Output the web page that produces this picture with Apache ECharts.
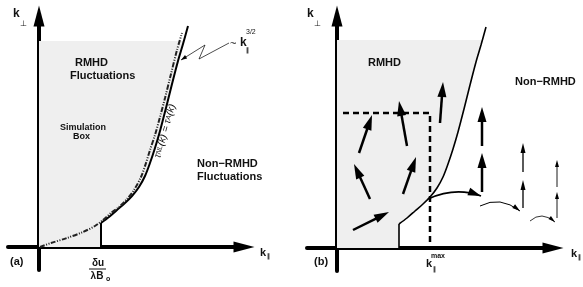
<!DOCTYPE html>
<html>
<head>
<meta charset="utf-8">
<script src="https://cdn.jsdelivr.net/npm/echarts@6/dist/echarts.min.js"></script>
<style>
    html, body { margin: 0; background: #fff; }
    #chart { width: 583px; height: 287px; }
</style>
</head>
<body>
<div id="chart"></div>
<script>
// Everything below is in axis units: origin at the k_perp / k_par crossing, 1 unit ~ 1px.

// RMHD boundary (same in both panels): vertical step at the cut-off, then ~ k_par^(3/2)
const boundaryStep = [[62, 0], [62, 24]];
const boundary = [[62, 24], [70, 30], [78, 37], [86, 44], [93, 51], [100, 60], [106, 71], [111, 84],
    [116, 99], [121, 116], [127, 139], [133, 163], [139, 186], [144, 203], [149, 221]];

// tau_NL(k) = tau_A(k) line in panel (a)
const balanceLine = [[1, 0], [12, 4], [28, 9], [44, 15], [56, 21], [64, 27], [72, 34], [80, 40], [88, 48],
    [95, 57], [102, 70], [107, 84], [111, 97], [116, 112], [121, 130], [126, 149], [132, 173], [138, 197], [143, 214]];

// zig-zag pointer from the "~ k^3/2" note to the boundary
const pointer = [[190, 204], [160, 188], [166, 202], [142, 187]];

const shadeTopA = 206;
const shadeTopB = 208;

// panel (b): simulation box corner at k_par^max
const simBox = [[6, 135], [93, 135], [93, 0]];

// straight arrows [x0, y0, x1, y1]
const bigArrows = [
    [22, 95, 35, 133],
    [70, 102, 62, 147],
    [103, 125, 106, 166],
    [33, 49, 17, 84],
    [66, 54, 79, 91],
    [16, 18, 52, 36],
    [145, 102, 145, 141],
    [145, 56, 145, 95],
];
const midArrows = [
    [186, 76, 186, 105],
    [186, 40, 186, 68],
];
const smallArrows = [
    [220, 61, 220, 88],
    [220, 30, 220, 56],
];

// bent arrows [x0, y0, xMid, yMid, x1, y1]
const bigBends = [[91, 49, 118, 56, 144, 52]];
const midBends = [[143, 42, 163, 46, 183, 37]];
const smallBends = [[193, 27, 205, 32, 218, 26]];

const INK = '#000';
const SHADE = '#efefef';
const FAMILY = '"Liberation Sans", Arial, sans-serif';

function shadePolygon(top) {
    const pts = [[0, 0]].concat(boundaryStep);
    for (let i = 1; i < boundary.length; i++) {
        const a = boundary[i - 1];
        const b = boundary[i];
        if (b[1] < top) {
            pts.push(b);
        } else {
            const t = (top - a[1]) / (b[1] - a[1]);
            pts.push([a[0] + t * (b[0] - a[0]), top]);
            break;
        }
    }
    pts.push([0, top]);
    return pts;
}

function arrowHead(tip, from, len, wid) {
    const dx = tip[0] - from[0];
    const dy = tip[1] - from[1];
    const d = Math.hypot(dx, dy) || 1;
    const ux = dx / d;
    const uy = dy / d;
    const bx = tip[0] - ux * len;
    const by = tip[1] - uy * len;
    return {
        type: 'polygon',
        shape: { points: [tip, [bx - uy * wid / 2, by + ux * wid / 2], [bx + uy * wid / 2, by - ux * wid / 2]] },
        style: { fill: INK },
    };
}

function axisPair(grid) {
    return {
        gridIndex: grid,
        type: 'value',
        axisLine: {
            onZero: true,
            symbol: ['none', 'triangle'],
            symbolSize: [11, 21],
            lineStyle: { color: INK, width: 4 },
        },
        axisTick: { show: false },
        axisLabel: { show: false },
        splitLine: { show: false },
    };
}

function shadeSeries(grid, top) {
    const pts = shadePolygon(top);
    return {
        type: 'custom',
        xAxisIndex: grid,
        yAxisIndex: grid,
        silent: true,
        z: 1,
        data: [[0, 0]],
        renderItem: (params, api) => ({
            type: 'polygon',
            shape: { points: pts.map((p) => api.coord(p)) },
            style: { fill: SHADE },
        }),
    };
}

function lineSeries(grid, data, width, extra) {
    return Object.assign({
        type: 'line',
        xAxisIndex: grid,
        yAxisIndex: grid,
        data: data,
        symbol: 'none',
        silent: true,
        z: 3,
        lineStyle: { color: INK, width: width },
    }, extra || {});
}

function arrowSeries(grid, rows, width, len, wid) {
    return {
        type: 'custom',
        xAxisIndex: grid,
        yAxisIndex: grid,
        silent: true,
        z: 4,
        data: rows,
        encode: { x: [0, 2], y: [1, 3] },
        renderItem: (params, api) => {
            const p0 = api.coord([api.value(0), api.value(1)]);
            const p1 = api.coord([api.value(2), api.value(3)]);
            const d = Math.hypot(p1[0] - p0[0], p1[1] - p0[1]) || 1;
            const k = (len - 1) / d;
            return {
                type: 'group',
                children: [
                    {
                        type: 'line',
                        shape: { x1: p0[0], y1: p0[1], x2: p1[0] - (p1[0] - p0[0]) * k, y2: p1[1] - (p1[1] - p0[1]) * k },
                        style: { stroke: INK, lineWidth: width },
                    },
                    arrowHead(p1, p0, len, wid),
                ],
            };
        },
    };
}

function bendSeries(grid, rows, width, len, wid) {
    return {
        type: 'custom',
        xAxisIndex: grid,
        yAxisIndex: grid,
        silent: true,
        z: 4,
        data: rows,
        encode: { x: [0, 2, 4], y: [1, 3, 5] },
        renderItem: (params, api) => {
            const p0 = api.coord([api.value(0), api.value(1)]);
            const pm = api.coord([api.value(2), api.value(3)]);
            const p1 = api.coord([api.value(4), api.value(5)]);
            // quadratic control point so the curve passes through the middle point
            const c = [2 * pm[0] - (p0[0] + p1[0]) / 2, 2 * pm[1] - (p0[1] + p1[1]) / 2];
            return {
                type: 'group',
                children: [
                    {
                        type: 'bezierCurve',
                        shape: { x1: p0[0], y1: p0[1], x2: p1[0], y2: p1[1], cpx1: c[0], cpy1: c[1] },
                        style: { stroke: INK, lineWidth: width, fill: null },
                    },
                    arrowHead(p1, c, len, wid),
                ],
            };
        },
    };
}

function pointerSeries(grid) {
    return {
        type: 'custom',
        xAxisIndex: grid,
        yAxisIndex: grid,
        silent: true,
        z: 4,
        data: [[0, 0]],
        renderItem: (params, api) => {
            const pts = pointer.map((p) => api.coord(p));
            const n = pts.length;
            return {
                type: 'group',
                children: [
                    { type: 'polyline', shape: { points: pts }, style: { stroke: INK, lineWidth: 0.7, fill: null } },
                    arrowHead(pts[n - 1], pts[n - 2], 6, 4),
                ],
            };
        },
    };
}

function txt(x, y, text, size, opts) {
    const o = opts || {};
    return {
        type: 'text',
        x: x,
        y: y,
        rotation: o.rotation || 0,
        z: 10,
        style: {
            text: text,
            fontFamily: FAMILY,
            fontSize: size,
            fontWeight: o.weight || 'bold',
            fontStyle: o.italic ? 'italic' : 'normal',
            fill: '#111',
            align: o.align || 'left',
            verticalAlign: 'middle',
            rich: o.rich,
        },
    };
}

const chart = echarts.init(document.getElementById('chart'), null, { renderer: 'canvas' });

chart.setOption({
    animation: false,
    backgroundColor: '#fff',
    grid: [
        { left: 8, top: 16, width: 236, height: 254, outerBoundsMode: 'none' },
        { left: 307, top: 16, width: 246, height: 255, outerBoundsMode: 'none' },
    ],
    xAxis: [
        Object.assign(axisPair(0), { min: -31, max: 205 }),
        Object.assign(axisPair(1), { min: -30, max: 216 }),
    ],
    yAxis: [
        Object.assign(axisPair(0), { min: -23, max: 231 }),
        Object.assign(axisPair(1), { min: -23, max: 232 }),
    ],
    series: [
        // panel (a)
        shadeSeries(0, shadeTopA),
        lineSeries(0, boundaryStep, 2),
        lineSeries(0, boundary, 2, { smooth: 0.3 }),
        lineSeries(0, balanceLine, 2, {
            smooth: 0.3,
            lineStyle: { color: '#222', width: 2, type: [5, 1.5, 1, 1.5, 1, 1.5] },
        }),
        pointerSeries(0),

        // panel (b)
        shadeSeries(1, shadeTopB),
        lineSeries(1, boundaryStep, 1.6),
        lineSeries(1, boundary, 1.6, { smooth: 0.3 }),
        lineSeries(1, simBox, 2.5, { lineStyle: { color: INK, width: 2.5, type: [6, 4] } }),
        arrowSeries(1, bigArrows, 2.5, 15, 9),
        arrowSeries(1, midArrows, 1.3, 10, 5),
        arrowSeries(1, smallArrows, 0.9, 7, 4),
        bendSeries(1, bigBends, 1.8, 13, 8),
        bendSeries(1, midBends, 1, 8, 4.5),
        bendSeries(1, smallBends, 0.8, 7, 4),
    ],
    graphic: [
        // panel (a)
        txt(13, 14, 'k', 12),
        txt(20, 24, '⊥', 8, { weight: 'normal' }),
        txt(75, 63, 'RMHD', 11),
        txt(70, 76, 'Fluctuations', 11),
        txt(60, 128, 'Simulation', 9),
        txt(73, 137, 'Box', 9),
        txt(197, 164, 'Non\u2212RMHD', 11),
        txt(197, 177, 'Fluctuations', 11),
        txt(230, 44, '~', 11, { weight: 'normal' }),
        txt(240, 43, 'k', 12),
        txt(246, 50, '\u2225', 6),
        txt(246, 32, '3/2', 7, { weight: 'normal' }),
        txt(165, 131, '{t|\u03c4}{s|NL}{t|(k) = \u03c4}{s|A}{t|(k)}', 10, {
            align: 'center',
            weight: 'normal',
            rotation: 74 * Math.PI / 180,
            rich: {
                t: { fontFamily: FAMILY, fontSize: 10, fontStyle: 'italic', fill: '#111', height: 12, verticalAlign: 'middle' },
                s: { fontFamily: FAMILY, fontSize: 7, fontStyle: 'italic', fill: '#111', height: 12, verticalAlign: 'bottom' },
            },
        }),
        txt(10, 262, '(a)', 11),
        txt(260, 253, 'k', 11),
        txt(267, 256, '\u2225', 6),
        txt(98, 263, '\u03b4u', 10, { align: 'center' }),
        {
            type: 'line',
            z: 10,
            shape: { x1: 89, y1: 269, x2: 106, y2: 269 },
            style: { stroke: '#111', lineWidth: 1 },
        },
        txt(97, 276, '\u03bbB', 10, { align: 'center' }),
        txt(106, 279, 'o', 7),

        // panel (b)
        txt(307, 14, 'k', 12),
        txt(314, 24, '⊥', 8, { weight: 'normal' }),
        txt(368, 63, 'RMHD', 11),
        txt(515, 82, 'Non\u2212RMHD', 11),
        txt(314, 262, '(b)', 11),
        txt(426, 264, 'k', 11),
        txt(433, 269, '\u2225', 6),
        txt(431, 256, 'max', 7),
        txt(571, 254, 'k', 11),
        txt(578, 257, '\u2225', 6),
    ],
});
</script>
</body>
</html>
